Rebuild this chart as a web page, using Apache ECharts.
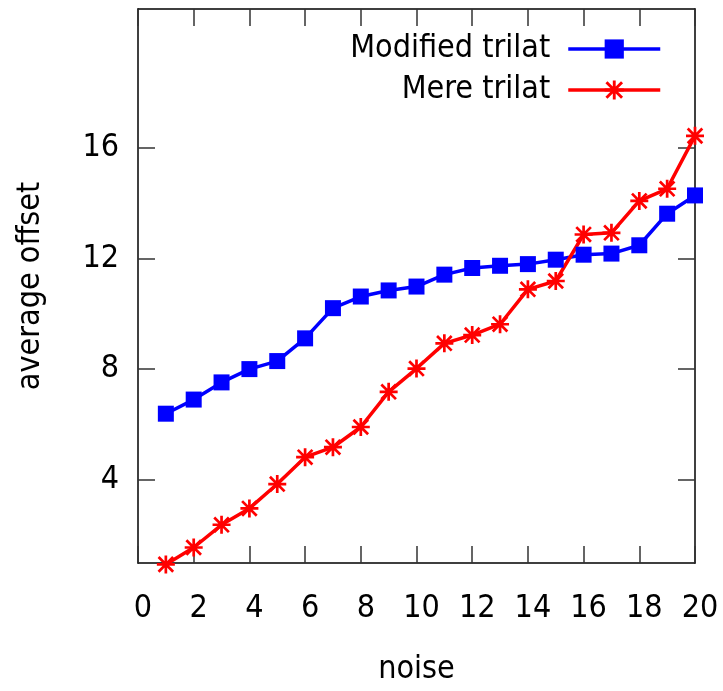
<!DOCTYPE html>
<html>
<head>
<meta charset="utf-8">
<script src="https://cdn.jsdelivr.net/npm/echarts@6/dist/echarts.min.js"></script>
<style>
html,body{margin:0;padding:0;background:#fff;}
#chart{width:723px;height:691px;}
</style>
</head>
<body>
<div id="chart"></div>
<script>
const noise = [1,2,3,4,5,6,7,8,9,10,11,12,13,14,15,16,17,18,19,20];
const modifiedTrilat = [6.39,6.90,7.52,8.00,8.29,9.11,10.20,10.62,10.84,10.98,11.41,11.65,11.73,11.79,11.95,12.13,12.17,12.47,13.61,14.27];
const mereTrilat = [0.95,1.56,2.38,2.97,3.85,4.82,5.18,5.91,7.18,8.02,8.93,9.23,9.62,10.88,11.18,12.86,12.92,14.07,14.51,16.42];
const yTicks = [4,8,12,16];
const seriesNames = ['Modified trilat','Mere trilat'];

const FONT = '"DejaVu Sans Condensed", "DejaVu Sans", sans-serif';
const FS = 32;
const star = 'path://M0 8.5L20 8.5L20 11.5L0 11.5Z M8.5 0L11.5 0L11.5 20L8.5 20Z M2.94 0.81L19.19 17.06L17.06 19.19L0.81 2.94Z M17.06 0.81L19.19 2.94L2.94 19.19L0.81 17.06Z';

function pairs(ys){ return noise.map((x,i)=>[x, ys[i]]); }

const chart = echarts.init(document.getElementById('chart'), null, {renderer:'canvas'});
const axisLine = {show:true, onZero:false, lineStyle:{color:'#000', width:1.5}};
const tick = {show:true, inside:true, length:17, lineStyle:{color:'#333', width:1.5}};
chart.setOption({
  animation:false,
  backgroundColor:'#fff',
  grid:{left:138, top:9, right:28, bottom:128},
  legend:{
    top:33, right:61, padding:0, orient:'vertical', align:'right',
    itemWidth:92, itemHeight:24, itemGap:9,
    lineStyle:{width:3.5},
    textStyle:{fontFamily:FONT, fontSize:FS, color:'#000', padding:[0,13,0,0]},
    data:seriesNames
  },
  xAxis:[{
    type:'value', min:0, max:20, interval:2, position:'bottom',
    name:'noise', nameLocation:'middle', nameGap:91,
    nameTextStyle:{fontFamily:FONT, fontSize:FS, color:'#000'},
    axisLine:axisLine, axisTick:tick,
    axisLabel:{fontFamily:FONT, fontSize:FS, color:'#000', margin:30, padding:[0,0,0,10]},
    splitLine:{show:false}
  },{
    type:'value', min:0, max:20, interval:2, position:'top',
    axisLine:axisLine, axisTick:tick, axisLabel:{show:false}, splitLine:{show:false}
  }],
  yAxis:[{
    type:'value', min:1, max:21, position:'left',
    name:'average offset', nameLocation:'middle', nameGap:91,
    nameTextStyle:{fontFamily:FONT, fontSize:FS, color:'#000'},
    axisLine:axisLine,
    axisTick:Object.assign({}, tick, {customValues:yTicks}),
    axisLabel:{fontFamily:FONT, fontSize:FS, color:'#000', margin:19, customValues:yTicks},
    splitLine:{show:false}
  },{
    type:'value', min:1, max:21, position:'right',
    axisLine:axisLine,
    axisTick:Object.assign({}, tick, {customValues:yTicks}),
    axisLabel:{show:false, customValues:yTicks},
    splitLine:{show:false}
  }],
  series:[{
    name:seriesNames[0], type:'line', data:pairs(modifiedTrilat), clip:false,
    symbol:'rect', symbolSize:16, showAllSymbol:true,
    lineStyle:{color:'#0000ff', width:3.5},
    itemStyle:{color:'#0000ff'}
  },{
    name:seriesNames[1], type:'line', data:pairs(mereTrilat), clip:false,
    symbol:star, symbolSize:18, showAllSymbol:true,
    lineStyle:{color:'#ff0000', width:3.5},
    itemStyle:{color:'#ff0000'}
  }]
});
</script>
</body>
</html>
